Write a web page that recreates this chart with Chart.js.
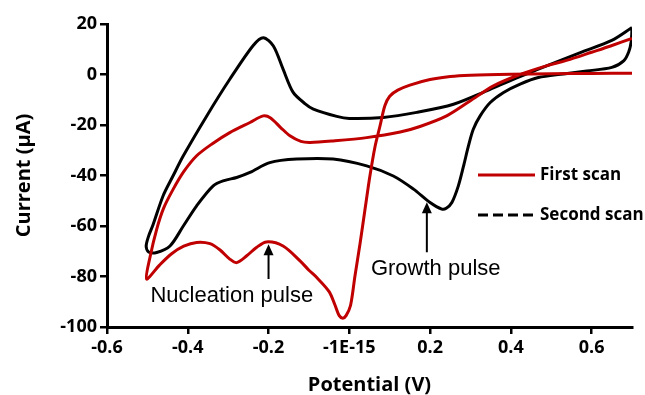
<!DOCTYPE html>
<html>
<head>
<meta charset="utf-8">
<script src="https://cdn.jsdelivr.net/npm/chart.js@4.4.1/dist/chart.umd.min.js"></script>
<style>
body { margin: 0; background: #fff; }
#wrap { width: 645px; height: 395px; }
</style>
</head>
<body>
<div id="wrap"><canvas id="cv"></canvas></div>
<script>
// first scan (red), potential in V and current in uA, in scan order
const firstV = [0.700, 0.600, 0.500, 0.400, 0.300, 0.250, 0.200, 0.150, 0.120, 0.100,
  0.088, 0.076, 0.064, 0.051, 0.039, 0.027, 0.014, 0.003, -0.008, -0.016,
  -0.025, -0.035, -0.050, -0.080, -0.100, -0.122, -0.164, -0.205, -0.230, -0.254,
  -0.279, -0.296, -0.320, -0.345, -0.378, -0.410, -0.440, -0.470, -0.502, -0.493,
  -0.477, -0.460, -0.436, -0.410, -0.378, -0.340, -0.296, -0.246, -0.213, -0.195,
  -0.170, -0.147, -0.120, -0.097, -0.040, 0.043, 0.126, 0.175, 0.241, 0.299,
  0.357, 0.423, 0.490, 0.547, 0.600, 0.647, 0.700];
const firstI = [0.5, 0.4, 0.3, 0.1, -0.3, -0.8, -2.0, -4.2, -6.2, -8.6,
  -12.4, -20.4, -28.3, -40.2, -53.3, -66.5, -79.8, -91.5, -95.5, -96.5,
  -95.5, -91.5, -86.0, -80.5, -77.5, -73.8, -67.9, -66.3, -68.5, -71.8,
  -74.5, -73.1, -69.5, -67.0, -66.5, -68.0, -71.0, -75.5, -81.0, -72.0,
  -61.3, -53.0, -45.4, -38.5, -32.2, -27.5, -23.0, -19.0, -16.4, -17.2,
  -21.0, -24.3, -26.5, -26.9, -26.3, -25.0, -22.8, -20.6, -16.4, -10.5,
  -4.5, 0.0, 3.5, 6.0, 8.8, 11.3, 14.3];

// second scan (black)
const secondV = [0.700, 0.698, 0.692, 0.680, 0.650, 0.588, 0.530, 0.468, 0.423, 0.382,
  0.349, 0.324, 0.307, 0.295, 0.283, 0.270, 0.254, 0.240, 0.229, 0.200,
  0.159, 0.109, 0.043, -0.040, -0.130, -0.197, -0.246, -0.279, -0.310, -0.337,
  -0.378, -0.411, -0.444, -0.477, -0.497, -0.503, -0.497, -0.486, -0.461, -0.436,
  -0.411, -0.353, -0.296, -0.238, -0.213, -0.188, -0.164, -0.139, -0.110, -0.089,
  -0.031, 0.000, 0.084, 0.167, 0.258, 0.340, 0.406, 0.468, 0.572, 0.650,
  0.700];
const secondI = [18.0, 13.0, 9.0, 5.5, 2.8, 1.4, 0.2, -1.2, -3.8, -7.1,
  -11.1, -16.4, -21.7, -28.3, -36.2, -44.1, -50.7, -53.0, -53.3, -50.7,
  -45.4, -40.2, -36.2, -33.5, -33.5, -34.9, -38.8, -40.8, -42.0, -44.1,
  -52.0, -60.0, -67.9, -70.5, -70.3, -68.0, -64.0, -59.5, -48.0, -40.0,
  -32.2, -16.4, -1.9, 11.5, 14.6, 11.3, 2.1, -7.1, -11.5, -13.7,
  -16.6, -17.4, -17.0, -15.0, -11.8, -6.5, -1.9, 2.1, 8.7, 13.5,
  18.6];

const seriesNames = ['First scan', 'Second scan'];
const xTickValues = [-0.6, -0.4, -0.2, 0, 0.2, 0.4, 0.6];
const xTickLabels = ['-0.6', '-0.4', '-0.2', '-1E-15', '0.2', '0.4', '0.6'];
const yTickValues = [-100, -80, -60, -40, -20, 0, 20];

// annotations, in data units
const noteText = ['Nucleation pulse', 'Growth pulse'];
const noteTextV = [-0.291, 0.214];
const noteTextI = [-87.8, -77.1];
const noteArrowV = [-0.2, 0.192];
const noteArrowFrom = [-81, -70.4];
const noteArrowTo = [-67.2, -50.6];

const red = '#C00000';

function toPoints(xs, ys) {
  return xs.map((v, i) => ({x: v, y: ys[i]}));
}

const extras = {
  id: 'extras',
  afterDraw(chart) {
    const {ctx, chartArea, scales: {x, y}} = chart;
    ctx.save();
    // arrows + notes
    ctx.strokeStyle = '#000';
    ctx.fillStyle = '#000';
    ctx.lineWidth = 2;
    for (let k = 0; k < noteText.length; k++) {
      const ax = x.getPixelForValue(noteArrowV[k]);
      const y0 = y.getPixelForValue(noteArrowFrom[k]);
      const y1 = y.getPixelForValue(noteArrowTo[k]);
      ctx.beginPath();
      ctx.moveTo(ax, y0);
      ctx.lineTo(ax, y1 + 8);
      ctx.stroke();
      ctx.beginPath();
      ctx.moveTo(ax, y1);
      ctx.lineTo(ax - 5, y1 + 11);
      ctx.lineTo(ax + 5, y1 + 11);
      ctx.closePath();
      ctx.fill();
      ctx.font = '22px "Liberation Sans", Arial, sans-serif';
      ctx.textAlign = 'center';
      ctx.textBaseline = 'middle';
      ctx.fillText(noteText[k], x.getPixelForValue(noteTextV[k]), y.getPixelForValue(noteTextI[k]));
    }
    // legend
    const lx = chartArea.right - 154;
    const ly = chartArea.top + 151;
    ctx.font = 'bold 17px "Open Sans", sans-serif';
    ctx.textAlign = 'left';
    ctx.textBaseline = 'middle';
    ctx.lineWidth = 3;
    ctx.strokeStyle = red;
    ctx.beginPath();
    ctx.moveTo(lx, ly);
    ctx.lineTo(lx + 57, ly);
    ctx.stroke();
    ctx.fillText(seriesNames[0], lx + 62, ly);
    ctx.strokeStyle = '#000';
    ctx.setLineDash([10, 5]);
    ctx.beginPath();
    ctx.moveTo(lx, ly + 40);
    ctx.lineTo(lx + 57, ly + 40);
    ctx.stroke();
    ctx.setLineDash([]);
    ctx.fillText(seriesNames[1], lx + 62, ly + 40);
    ctx.restore();
  }
};

Chart.defaults.font.family = '"Open Sans", sans-serif';
Chart.defaults.color = '#000';

new Chart(document.getElementById('cv'), {
  type: 'scatter',
  data: {
    datasets: [
      {
        label: seriesNames[0],
        data: toPoints(firstV, firstI),
        showLine: true,
        borderColor: red,
        borderWidth: 3,
        pointRadius: 0,
        tension: 0.3
      },
      {
        label: seriesNames[1],
        data: toPoints(secondV, secondI),
        showLine: true,
        borderColor: '#000',
        borderWidth: 3,
        pointRadius: 0,
        tension: 0.3
      }
    ]
  },
  options: {
    responsive: true,
    maintainAspectRatio: false,
    animation: false,
    layout: { padding: { left: 0, top: 24, right: 13, bottom: 0 } },
    plugins: { legend: { display: false }, tooltip: { enabled: false } },
    scales: {
      x: {
        type: 'linear',
        min: -0.6,
        max: 0.7,
        afterFit: s => { s.height = 68; },
        afterBuildTicks: s => { s.ticks = xTickValues.map(v => ({value: v})); },
        border: { color: '#000', width: 3 },
        grid: { drawOnChartArea: false, color: '#000', lineWidth: 2.5, tickLength: 7 },
        ticks: {
          padding: 3,
          font: { size: 18, weight: 'bold' },
          maxRotation: 0,
          autoSkip: false,
          callback: (v, i) => xTickLabels[i]
        },
        title: {
          display: true,
          text: 'Potential (V)',
          font: { size: 20, weight: 'bold', lineHeight: 1 },
          padding: { top: 0, bottom: 0 }
        }
      },
      y: {
        min: -100,
        max: 20,
        afterFit: s => { s.width = 107; },
        afterBuildTicks: s => { s.ticks = yTickValues.map(v => ({value: v})); },
        border: { color: '#000', width: 3 },
        grid: { drawOnChartArea: false, color: '#000', lineWidth: 2.5, tickLength: 7 },
        ticks: {
          padding: 3,
          font: { size: 18, weight: 'bold' }
        },
        title: {
          display: true,
          text: 'Current (µA)',
          font: { size: 20, weight: 'bold', lineHeight: 1.2 },
          padding: { top: 12, bottom: 0 }
        }
      }
    }
  },
  plugins: [extras]
});
</script>
</body>
</html>
